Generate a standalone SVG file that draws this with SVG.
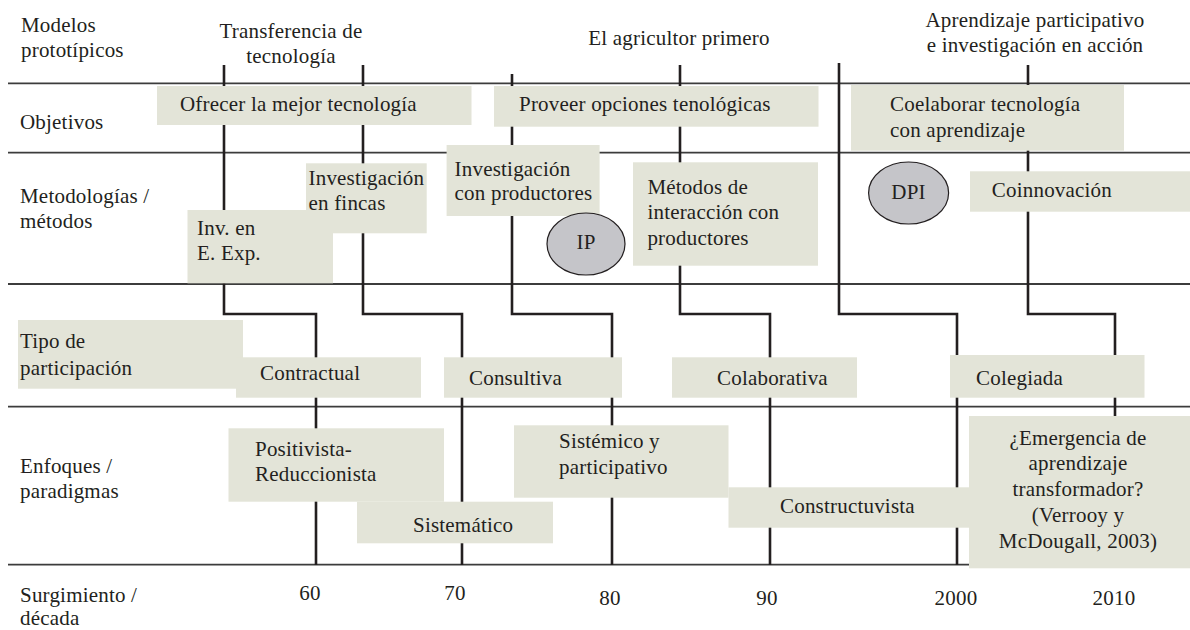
<svg xmlns="http://www.w3.org/2000/svg" width="1190" height="630" viewBox="0 0 1190 630">
<style>
text { font-family: "Liberation Serif", "Times New Roman", serif; font-size: 21px; fill: #231f20; letter-spacing: 0.2px; }
.box { fill: #e3e4d8; }
.ell { fill: #c5c5c9; stroke: #231f20; stroke-width: 1.2; }
.rule { stroke: #3c3c3c; stroke-width: 1.8; fill: none; }
.step { stroke: #231f20; stroke-width: 2.6; fill: none; }
.c { text-anchor: middle; }
</style>
<rect width="1190" height="630" fill="#ffffff"/>
<g id="rules">
<line class="rule" x1="8" y1="83.3" x2="1190" y2="83.3"/>
<line class="rule" x1="8" y1="152.7" x2="1190" y2="152.7"/>
<line class="rule" x1="8" y1="284" x2="1190" y2="284"/>
<line class="rule" x1="8" y1="406.7" x2="1190" y2="406.7"/>
<line class="rule" x1="8" y1="564.7" x2="1190" y2="564.7"/>
</g>
<g id="connectors">
<path class="step" d="M224 65 V314 H316 V565"/>
<path class="step" d="M363 65 V314 H462 V565"/>
<path class="step" d="M512 74 V314 H612 V565"/>
<path class="step" d="M680 65 V314 H770 V565"/>
<path class="step" d="M839 63 V314 H957 V565"/>
<path class="step" d="M1028 65 V314 H1115 V565"/>
</g>
<g id="row-labels">
<text x="21" y="32">Modelos</text>
<text x="21" y="57">prototípicos</text>
<text x="20" y="129">Objetivos</text>
<text x="20" y="203">Metodologías /</text>
<text x="20" y="228">métodos</text>
<text x="20" y="473">Enfoques /</text>
<text x="20" y="498">paradigmas</text>
<text x="20" y="602">Surgimiento /</text>
<text x="20" y="625">década</text>
</g>
<g id="models">
<text class="c" x="291" y="38">Transferencia de</text>
<text class="c" x="291" y="63">tecnología</text>
<text class="c" x="679" y="45">El agricultor primero</text>
<text class="c" x="1035" y="27">Aprendizaje participativo</text>
<text class="c" x="1035" y="52">e investigación en acción</text>
</g>
<g id="ofrecer"><rect class="box" x="157" y="86" width="314.5" height="39"/><text x="180" y="111">Ofrecer la mejor tecnología</text></g>
<g id="proveer"><rect class="box" x="494" y="86" width="324.5" height="40.7"/><text x="519" y="111">Proveer opciones tenológicas</text></g>
<g id="coelaborar"><rect class="box" x="851" y="85" width="273" height="65.7"/><text x="890" y="111">Coelaborar tecnología</text><text x="890" y="137">con aprendizaje</text></g>
<g id="inv-exp"><rect class="box" x="187.5" y="210" width="145.5" height="73.3"/><text x="197" y="235">Inv. en</text><text x="197" y="260">E. Exp.</text></g>
<g id="inv-fincas"><rect class="box" x="306" y="163.3" width="120.7" height="70"/><text x="308.5" y="185">Investigación</text><text x="308.5" y="210">en fincas</text></g>
<g id="inv-productores"><rect class="box" x="446.6" y="145" width="153" height="71"/><text x="454.6" y="176">Investigación</text><text x="454.6" y="200">con productores</text></g>
<g id="ip"><ellipse class="ell" cx="586" cy="244" rx="39" ry="31"/><text class="c" x="586" y="249">IP</text></g>
<g id="metodos-interaccion"><rect class="box" x="633" y="162.3" width="185" height="103.4"/><text x="647.4" y="194">Métodos de</text><text x="647.4" y="219">interacción con</text><text x="647.4" y="245">productores</text></g>
<g id="dpi"><ellipse class="ell" cx="908.6" cy="193" rx="40" ry="31"/><text class="c" x="908.6" y="199">DPI</text></g>
<g id="coinnovacion"><rect class="box" x="970" y="171.3" width="220" height="40.4"/><text x="991.8" y="197">Coinnovación</text></g>
<g id="tipo-participacion"><rect class="box" x="18" y="320" width="225" height="68.7"/><text x="20" y="348">Tipo de</text><text x="20" y="375">participación</text></g>
<g id="contractual"><rect class="box" x="236" y="357.3" width="185" height="40.4"/><text x="260" y="380">Contractual</text></g>
<g id="consultiva"><rect class="box" x="444" y="357.3" width="178" height="40.4"/><text x="469" y="385">Consultiva</text></g>
<g id="colaborativa"><rect class="box" x="672" y="357.3" width="185" height="40.4"/><text x="717" y="385">Colaborativa</text></g>
<g id="colegiada"><rect class="box" x="950" y="355" width="194.5" height="42.7"/><text x="976" y="385">Colegiada</text></g>
<g id="positivista"><rect class="box" x="228.5" y="428.3" width="215.5" height="73.4"/><text x="255" y="456">Positivista-</text><text x="255" y="481">Reduccionista</text></g>
<g id="sistematico"><rect class="box" x="357" y="501.7" width="196" height="41.6"/><text x="413" y="532">Sistemático</text></g>
<g id="sistemico"><rect class="box" x="514" y="425.3" width="214.5" height="72.4"/><text x="559" y="448">Sistémico y</text><text x="559" y="474">participativo</text></g>
<g id="constructuvista"><rect class="box" x="728.5" y="487.3" width="241" height="40.4"/><text x="780" y="513">Constructuvista</text></g>
<g id="emergencia"><rect class="box" x="969" y="416" width="221" height="152.3"/>
<text class="c" x="1078" y="445">¿Emergencia de</text>
<text class="c" x="1078" y="470">aprendizaje</text>
<text class="c" x="1078" y="496">transformador?</text>
<text class="c" x="1078" y="522">(Verrooy y</text>
<text class="c" x="1078" y="548">McDougall, 2003)</text></g>
<g id="decades">
<text class="c" x="310" y="600">60</text>
<text class="c" x="455" y="600">70</text>
<text class="c" x="610" y="605">80</text>
<text class="c" x="767" y="605">90</text>
<text class="c" x="956" y="605">2000</text>
<text class="c" x="1114" y="605">2010</text>
</g>
</svg>
